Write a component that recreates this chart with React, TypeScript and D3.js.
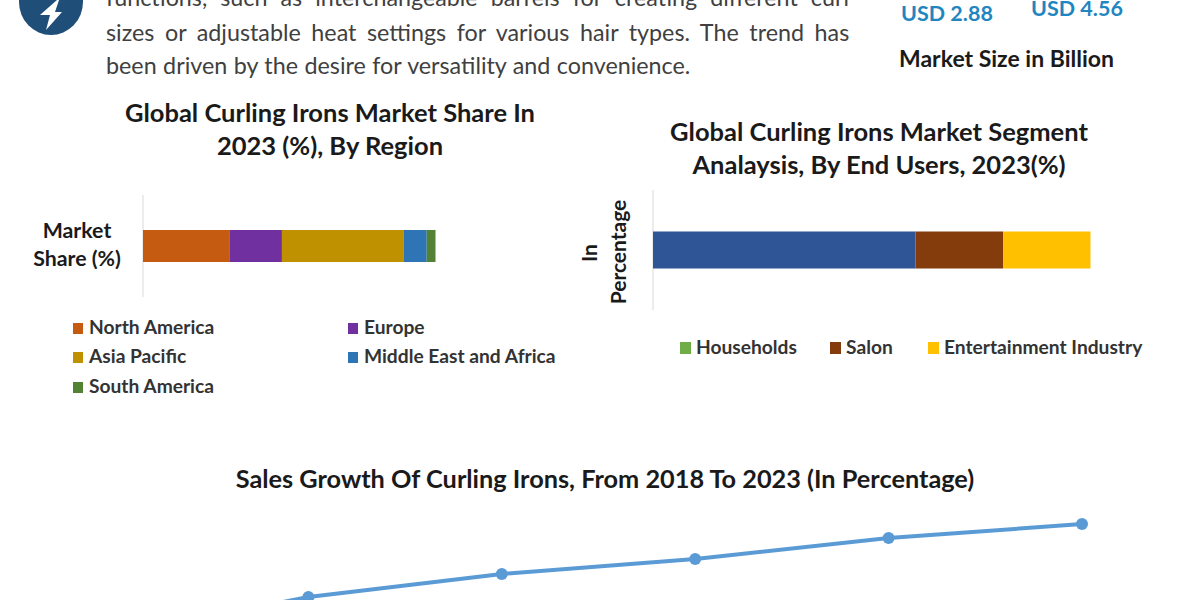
import React from "react";
import * as d3 from "d3";

const paragraphLines = [
  "functions, such as interchangeable barrels for creating different curl",
  "sizes or adjustable heat settings for various hair types. The trend has",
  "been driven by the desire for versatility and convenience.",
];
const regionNames = ["North America", "Europe", "Asia Pacific", "Middle East and Africa", "South America"];
const regionValues = [29.7, 17.8, 41.7, 7.8, 3.0];
const regionColors = ["#C55A11", "#7030A0", "#BF9000", "#2E75B6", "#548235"];
const endUserNames = ["Households", "Salon", "Entertainment Industry"];
const endUserValues = [60, 20, 20];
const endUserBarColors = ["#2F5597", "#843C0C", "#FFC000"];
const endUserLegendColors = ["#70AD47", "#843C0C", "#FFC000"];
const years = [2018, 2019, 2020, 2021, 2022, 2023];
const growthValues = [0.5, 4.3, 6.6, 8.1, 10.2, 11.6];

const FONT = "Lato, 'Open Sans', sans-serif";

function stack(values: number[]) {
  let run = 0;
  return values.map((v) => {
    const s = { x0: run, x1: run + v };
    run += v;
    return s;
  });
}

export default function App() {
  const xRegion = d3.scaleLinear().domain([0, 100]).range([143, 435.5]);
  const xEnd = d3.scaleLinear().domain([0, 100]).range([653, 1090.5]);
  const xYear = d3.scaleLinear().domain([2018, 2023]).range([115, 1082]);
  const yGrowth = d3.scaleLinear().domain([0, 12]).range([640, 520]);
  const line = d3
    .line<number>()
    .x((_, i) => xYear(years[i]))
    .y((d) => yGrowth(d));

  const title = { fontFamily: FONT, fontWeight: 700, fill: "#1a1a1a", textAnchor: "middle" as const };
  const legend = { fontFamily: FONT, fontWeight: 700, fontSize: 19.2, fill: "#333" };

  const regionLegendPos = [
    [73, 334],
    [348, 334],
    [73, 363],
    [348, 363],
    [73, 393],
  ];
  const endLegendPos = [
    [680, 354],
    [830, 354],
    [928, 354],
  ];

  return (
    <svg
      width={1200}
      height={600}
      viewBox="0 0 1200 600"
      style={{ position: "absolute", left: 0, top: 0, background: "#fff" }}
    >
      <ellipse cx={51} cy={2} rx={32} ry={33} fill="#1F4E79" />
      <path d="M57 0 L40 15 L50 15 L46 30 L62 12 L55 12 L59 0 Z" fill="#fff" />

      {paragraphLines.map((t, i) => (
        <text
          key={i}
          x={106}
          y={[6, 41, 74][i]}
          fontFamily={FONT}
          fontSize={23.3}
          fill="#404040"
          style={{ wordSpacing: [7.1, 4.6, 0.5][i] }}
        >
          {t}
        </text>
      ))}

      <text x={901} y={20.5} fontFamily={FONT} fontWeight={700} fontSize={21.5} fill="#1F86C0">USD 2.88</text>
      <text x={1031} y={16} fontFamily={FONT} fontWeight={700} fontSize={21.5} fill="#1F86C0">USD 4.56</text>
      <text x={899} y={67} fontFamily={FONT} fontWeight={700} fontSize={23} fill="#1a1a1a">Market Size in Billion</text>

      <text x={330} y={122} fontSize={25.5} {...title}>Global Curling Irons Market Share In</text>
      <text x={330} y={155} fontSize={25.5} {...title}>2023 (%), By Region</text>
      <text x={879} y={141} fontSize={25.5} {...title}>Global Curling Irons Market Segment</text>
      <text x={879} y={174} fontSize={25.5} {...title}>Analaysis, By End Users, 2023(%)</text>

      <line x1={143} x2={143} y1={195} y2={297} stroke="#d9d9d9" />
      {stack(regionValues).map((s, i) => (
        <rect key={i} x={xRegion(s.x0)} width={xRegion(s.x1) - xRegion(s.x0)} y={230} height={32} fill={regionColors[i]} />
      ))}
      <text x={77} y={238} fontSize={21.3} {...title}>Market</text>
      <text x={77} y={266} fontSize={21.3} {...title}>Share (%)</text>
      {regionNames.map((n, i) => (
        <g key={n}>
          <rect x={regionLegendPos[i][0]} y={regionLegendPos[i][1] - 11} width={10} height={11} fill={regionColors[i]} />
          <text x={regionLegendPos[i][0] + 16} y={regionLegendPos[i][1]} {...legend}>{n}</text>
        </g>
      ))}

      <line x1={653} x2={653} y1={190} y2={310} stroke="#d9d9d9" />
      {stack(endUserValues).map((s, i) => (
        <rect key={i} x={xEnd(s.x0)} width={xEnd(s.x1) - xEnd(s.x0)} y={231.5} height={37} fill={endUserBarColors[i]} />
      ))}
      <text transform="translate(597,253) rotate(-90)" fontSize={21} {...title}>In</text>
      <text transform="translate(626,252) rotate(-90)" fontSize={21} {...title}>Percentage</text>
      {endUserNames.map((n, i) => (
        <g key={n}>
          <rect x={endLegendPos[i][0]} y={endLegendPos[i][1] - 12} width={11} height={12} fill={endUserLegendColors[i]} />
          <text x={endLegendPos[i][0] + 16} y={endLegendPos[i][1]} {...legend}>{n}</text>
        </g>
      ))}

      <text x={605} y={488} fontSize={25.3} {...title}>Sales Growth Of Curling Irons, From 2018 To 2023 (In Percentage)</text>
      <path d={line(growthValues) ?? ""} fill="none" stroke="#5B9BD5" strokeWidth={4} strokeLinecap="round" />
      {growthValues.map((v, i) => (
        <circle key={years[i]} cx={xYear(years[i])} cy={yGrowth(v)} r={6} fill="#5B9BD5" />
      ))}
    </svg>
  );
}
